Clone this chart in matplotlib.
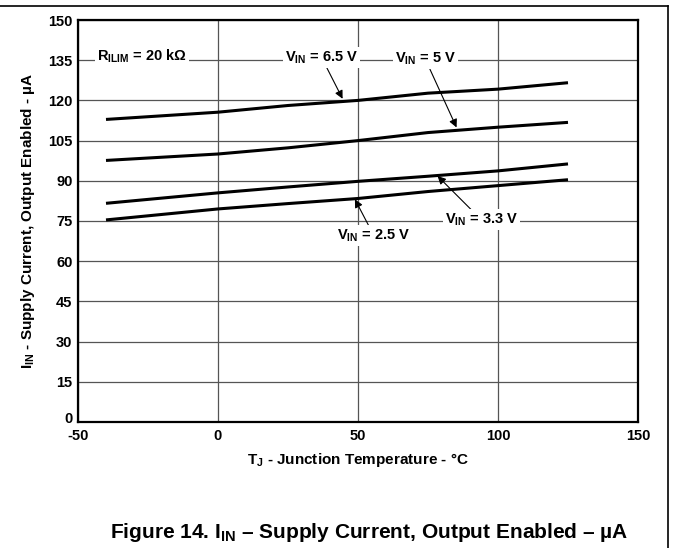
import matplotlib
matplotlib.use("Agg")
import matplotlib.pyplot as plt
import matplotlib.transforms as mtransforms

plt.rcParams['font.family'] = ['Liberation Sans', 'DejaVu Sans']
plt.rcParams['font.weight'] = 'bold'
plt.rcParams['mathtext.fontset'] = 'custom'
plt.rcParams['mathtext.rm'] = 'Liberation Sans:bold'
plt.rcParams['mathtext.bf'] = 'Liberation Sans:bold'
plt.rcParams['mathtext.default'] = 'bf'
plt.rcParams['axes.unicode_minus'] = False

# Junction temperature (deg C)
temp = [-40, 0, 25, 50, 75, 100, 125]
# Supply current (uA) per input voltage
i_6v5 = [112.9, 115.6, 118.1, 120.0, 122.7, 124.2, 126.6]
i_5v = [97.6, 100.0, 102.3, 105.0, 108.0, 110.0, 111.8]
i_3v3 = [81.6, 85.5, 87.7, 89.8, 91.7, 93.7, 96.3]
i_2v5 = [75.4, 79.5, 81.5, 83.4, 86.0, 88.2, 90.4]

xticks = [-50, 0, 50, 100, 150]
yticks = list(range(0, 151, 15))

fig = plt.figure(figsize=(6.73, 5.48), dpi=100)
ax = fig.add_axes([78 / 673, 1 - 422 / 548, 560 / 673, 402 / 548])

for ys in (i_6v5, i_5v, i_3v3, i_2v5):
    ax.plot(temp, ys, color='black', lw=2.2, zorder=3, solid_capstyle='butt')

ax.set_xlim(-50, 150)
ax.set_ylim(0, 150)
ax.set_xticks(xticks)
ax.set_yticks(yticks)
ax.grid(True, color='#555555', lw=0.9)
ax.set_axisbelow(True)
ax.tick_params(length=0, labelsize=10.5)
ax.tick_params(axis='x', pad=5)
ax.tick_params(axis='y', pad=4)
for lbl in ax.get_xticklabels() + ax.get_yticklabels():
    lbl.set_fontweight('bold')
# lift the "0" on the y axis a little so it clears "-50"
zero_lbl = ax.get_yticklabels()[0]
zero_lbl.set_transform(zero_lbl.get_transform() +
                       mtransforms.ScaledTranslation(0, 3 / 72, fig.dpi_scale_trans))
for s in ax.spines.values():
    s.set_linewidth(1.6)

ax.set_xlabel(r'$T_J$ - Junction Temperature - °C', fontsize=11, fontweight='bold', labelpad=6)
ax.set_ylabel(r'$I_{IN}$ - Supply Current, Output Enabled - µA', fontsize=11, fontweight='bold', labelpad=8)

fs = 10.5
box = dict(facecolor='white', edgecolor='none', pad=1.5)
ax.text(-27, 136.3, r'$R_{ILIM}$ = 20 kΩ', fontsize=fs, ha='center', va='center', bbox=box, zorder=4)

arrow = dict(arrowstyle='-|>', color='black', lw=0.8, mutation_scale=12, shrinkA=0, shrinkB=0)
ax.annotate(r'$V_{IN}$ = 6.5 V', xy=(44.5, 120.6), xytext=(37, 136), fontsize=fs,
            ha='center', va='center', bbox=box, arrowprops=arrow, zorder=4)
ax.annotate(r'$V_{IN}$ = 5 V', xy=(85.2, 109.9), xytext=(74, 135.5), fontsize=fs,
            ha='center', va='center', bbox=box, arrowprops=arrow, zorder=4)
ax.annotate(r'$V_{IN}$ = 2.5 V', xy=(48.9, 83.1), xytext=(55.7, 69.5), fontsize=fs,
            ha='center', va='center', bbox=box, arrowprops=arrow, zorder=4)
ax.annotate(r'$V_{IN}$ = 3.3 V', xy=(78.4, 91.8), xytext=(94, 75.5), fontsize=fs,
            ha='center', va='center', bbox=box, arrowprops=arrow, zorder=4)

# page frame lines (top and right)
fig.add_artist(plt.Line2D([0, 668 / 673], [1 - 6 / 548, 1 - 6 / 548], color='black', lw=1.2))
fig.add_artist(plt.Line2D([668 / 673, 668 / 673], [0, 1 - 6 / 548], color='black', lw=1.2))

fig.text(628 / 673, 1 - 532 / 548, r'Figure 14. $I_{IN}$ – Supply Current, Output Enabled – µA',
         fontsize=15, fontweight='bold', ha='right', va='center')

fig.savefig('out.png', dpi=100)
